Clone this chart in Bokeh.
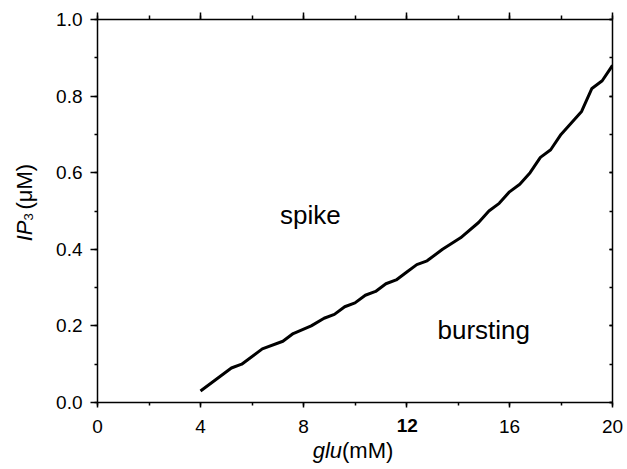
from bokeh.plotting import figure
from bokeh.models import Range1d, LinearAxis, SingleIntervalTicker, Label, PrintfTickFormatter
from bokeh.embed import file_html
from bokeh.resources import INLINE
import math

# data
glu = [4.0, 4.6, 5.2, 5.6, 6.4, 7.2, 7.6, 8.3, 8.8, 9.2, 9.6, 10.0, 10.4, 10.8, 11.2,
       11.6, 12.0, 12.4, 12.8, 13.4, 14.1, 14.8, 15.2, 15.6, 16.0, 16.4, 16.8, 17.2,
       17.6, 18.0, 18.4, 18.8, 19.2, 19.6, 20.0]
ip3 = [0.03, 0.06, 0.09, 0.10, 0.14, 0.16, 0.18, 0.20, 0.22, 0.23, 0.25, 0.26, 0.28,
       0.29, 0.31, 0.32, 0.34, 0.36, 0.37, 0.40, 0.43, 0.47, 0.50, 0.52, 0.55, 0.57,
       0.60, 0.64, 0.66, 0.70, 0.73, 0.76, 0.82, 0.84, 0.88]
region_labels = ["spike", "bursting"]
region_x = [8.27, 15.0]
region_y = [0.49, 0.19]
bold_tick = 12

FONT = "Liberation Sans"

p = figure(frame_width=515, frame_height=383, output_backend="svg", toolbar_location=None,
           x_range=Range1d(0, 20), y_range=Range1d(0, 1),
           min_border_left=97, min_border_right=15, min_border_top=19, min_border_bottom=67,
           background_fill_color="white", border_fill_color="white")
p.outline_line_color = None
p.grid.visible = False

def style(ax):
    ax.axis_line_width = 1.5
    ax.axis_line_color = "black"
    ax.major_tick_line_width = 1.5
    ax.minor_tick_line_width = 1.5
    ax.major_tick_line_color = "black"
    ax.minor_tick_line_color = "black"
    ax.major_label_text_font = FONT
    ax.major_label_text_font_size = "19px"
    ax.major_label_text_color = "black"

xa = p.xaxis[0]
xa.ticker = SingleIntervalTicker(interval=4, num_minor_ticks=2)
style(xa)
xa.major_tick_out = 5
xa.major_tick_in = 0
xa.minor_tick_out = 3
xa.minor_tick_in = 0
xa.major_label_standoff = 8
xa.major_label_overrides = {bold_tick: " "}

ya = p.yaxis[0]
ya.ticker = SingleIntervalTicker(interval=0.2, num_minor_ticks=2)
style(ya)
ya.major_tick_out = 7
ya.major_tick_in = 0
ya.minor_tick_out = 3
ya.minor_tick_in = 0
ya.major_label_standoff = 8
ya.formatter = PrintfTickFormatter(format="%.1f")

top = LinearAxis(ticker=SingleIntervalTicker(interval=4, num_minor_ticks=2))
style(top)
top.major_label_text_font_size = "0px"
top.major_label_standoff = 0
top.major_tick_out = 7
top.major_tick_in = 0
top.minor_tick_out = 4
top.minor_tick_in = 0
p.add_layout(top, "above")

right = LinearAxis(ticker=SingleIntervalTicker(interval=0.2, num_minor_ticks=2))
style(right)
right.major_label_text_font_size = "0px"
right.major_label_standoff = 0
right.major_tick_out = 0
right.major_tick_in = 3
right.minor_tick_out = 0
right.minor_tick_in = 3
p.add_layout(right, "right")

p.line(glu, ip3, line_color="black", line_width=3, line_join="round")

for t, x, y in zip(region_labels, region_x, region_y):
    p.add_layout(Label(x=x, y=y, text=t, text_font=FONT, text_font_size="26px",
                       text_align="center", text_baseline="alphabetic", text_color="black"))

def clabel(x, y, text, size, style="normal", align="left", angle=0.0):
    p.add_layout(Label(x=x, y=y, x_units="canvas", y_units="canvas", text=text,
                       text_font=FONT, text_font_size=size, text_font_style=style,
                       text_align=align, text_baseline="alphabetic", angle=angle,
                       text_color="black"), "below")

# bold 12 tick label (canvas pixels, y from top)
clabel(406.7, 424.5, str(bold_tick), "19px", "bold", "center")

# x axis label: glu(mM)
clabel(341.5, 449.5, "glu", "22px", "italic", "right")
clabel(341.5, 449.5, "(mM)", "22px", "normal", "left")

# y axis label: IP3(uM)
a = math.pi / 2
clabel(23.5, 220, "IP", "22px", "italic", "right", a)
clabel(27.5, 220, "3", "13px", "normal", "left", a)
clabel(23.5, 209, "(\u03bcM)", "22px", "normal", "left", a)

open("out.html", "w").write(file_html(p, INLINE))
